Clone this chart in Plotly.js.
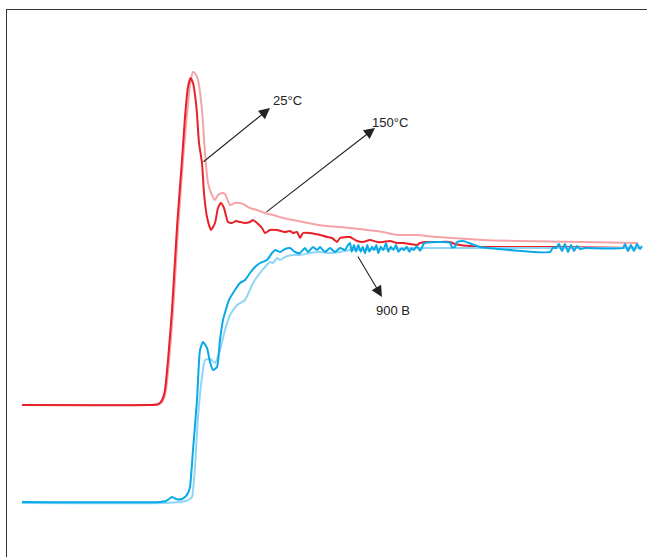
<!DOCTYPE html>
<html>
<head>
<meta charset="utf-8">
<script src="https://cdn.plot.ly/plotly-3.0.1.min.js"></script>
<style>html,body{margin:0;padding:0;background:#fff;}#chart{width:647px;height:557px;}</style>
</head>
<body>
<div id="chart"></div>
<script>
// Values in arbitrary units (time on x, signal on y).
const red25X = [15,143,150,153,156,158,161,165,170,175,178,181,183.5,186,189.5,192,195,197,200,204,208,211,214,217,221,225,229,233,238,243,246,250,255,258,263,270,278,283,286,290,293,296,303,313,320,325,330,333,340,343,350,356,363,370,376,383,390,396,403,410,413,418,430,443,448,453,463,476,513,543,593,633];
const red25Y = [152,152,152.5,154,159,167,197,247,330,397,440,470,479,474,449,414,394,364,340,327,334,349,354,349,335,334,336,335,334,335,337,334,329,324,327,327,325,326,324,325,319,324,324,322,320,319,315,319,320,320,316,315,317,315,315,316,314,314,313,312,314,315,315,315,313,312,311,310,310,310,309.5,309];

const red150X = [15,143,151,154,157,159,162,166,171,176,180,183,186,188.5,191,195,198,201,205,208,211,215,218,223,228,233,238,243,250,258,266,276,286,296,306,320,333,343,376,390,410,430,476,510,576,631];
const red150Y = [152,152,152.5,154,159,167,195,245,327,397,442,472,485,483,477,447,404,374,362,357,362,364,363,352,354,354,352,349,347,344,342,339,337,335,333,331,330,329,325,322,322,320,317,316,315,314];

const blue25X = [15,153,159,162,165,168,171,175,178,181,183,186,190,193,196,200,203,206,210,213,216,222,228,233,238,243,248,253,260,265,268,273,278,283,288,293,298,301,306,310,313,318,323,328,333,338,341,343,344.7,347,349,351.3,353.7,355.7,358,360.3,362.3,365,367,369.3,371.3,373.7,376.3,379,381.3,383.7,386.3,389,391.3,394.7,397,399.7,402.3,404.7,407,409.7,413,414.7,417,443,445,448,450,456,470,471.5,473,543,546,549,552,555,558,561,564,567,570,573,578,616,618,621,624,627,630,633,635];
const blue25Y = [55,55,56,58,60,58.5,57.5,58,60,64,70,107,157,207,215,209,195,187,190,217,237,257,267,274,277,284,290,294,297,304,307,305,308,309,305,304,309,305,310,307,310,305,309,305,309,307,312,314,305.3,312,305.3,312,305.3,310.3,303.7,312,305.3,310.3,307,312,303.7,310.3,307,313.7,305.3,310.3,307,312,305.3,308.7,307,310.3,305.3,308.7,307,311,306.3,308.7,313.7,314.3,309.7,310,315,316,311,310.5,310,305,309.5,309,313,306,313,305,312,306,311,308,309,309,313,306,312,306,313,308,311];

const blue150X = [15,158,173,179,183,185,188,191,195,198,203,208,213,218,223,230,238,246,253,258,263,266,270,273,278,285,293,303,313,323,333,343,376,410,443,493,633];
const blue150Y = [54,54,55,56,58,60,90,140,180,197,198,194,207,227,242,252,257,274,284,290,295,294,299,297,300,302,302,304,305,304,305,307,308,309,309,309,309];

const labels = ["25°C", "150°C", "900 B"];
const labelX = [280, 383, 386];
const labelY = [457, 435, 247];
const arrowTip = [[263,449],[368,429],[375,260]];
const arrowTail = [[195,394],[258,344],[350,302]];

const common = {type:'scatter', mode:'lines', hoverinfo:'skip', showlegend:false};
const traces = [
  Object.assign({}, common, {x:red150X, y:red150Y, line:{color:'#F5A3A8', width:2, shape:'spline', smoothing:0.5}}),
  Object.assign({}, common, {x:red25X, y:red25Y, line:{color:'#E8202A', width:2, shape:'spline', smoothing:0.5}}),
  Object.assign({}, common, {x:blue150X, y:blue150Y, line:{color:'#8DD6F6', width:2, shape:'spline', smoothing:0.5}}),
  Object.assign({}, common, {x:blue25X, y:blue25Y, line:{color:'#0AA8E6', width:2, shape:'spline', smoothing:0.5}})
];

const annotations = [];
for (let i = 0; i < labels.length; i++) {
  annotations.push({x:arrowTip[i][0], y:arrowTip[i][1], ax:arrowTail[i][0], ay:arrowTail[i][1],
    xref:'x', yref:'y', axref:'x', ayref:'y', text:'', showarrow:true,
    arrowhead:2, arrowsize:2, arrowwidth:1.1, arrowcolor:'#222', standoff:0, startstandoff:0});
  annotations.push({x:labelX[i], y:labelY[i], xref:'x', yref:'y', text:labels[i], showarrow:false,
    font:{family:'Liberation Sans, Arial, sans-serif', size:13, color:'#222'}});
}

const layout = {
  width:647, height:557,
  margin:{l:7, r:0, t:10, b:0, pad:0},
  paper_bgcolor:'#fff', plot_bgcolor:'#fff',
  xaxis:{range:[0,640], side:'top', showline:true, linecolor:'#333', linewidth:1.5,
         showgrid:false, zeroline:false, showticklabels:false, ticks:''},
  yaxis:{range:[0,547], showline:true, linecolor:'#333', linewidth:1.5,
         showgrid:false, zeroline:false, showticklabels:false, ticks:''},
  annotations: annotations
};

Plotly.newPlot('chart', traces, layout, {staticPlot:true, displayModeBar:false});
</script>
</body>
</html>
